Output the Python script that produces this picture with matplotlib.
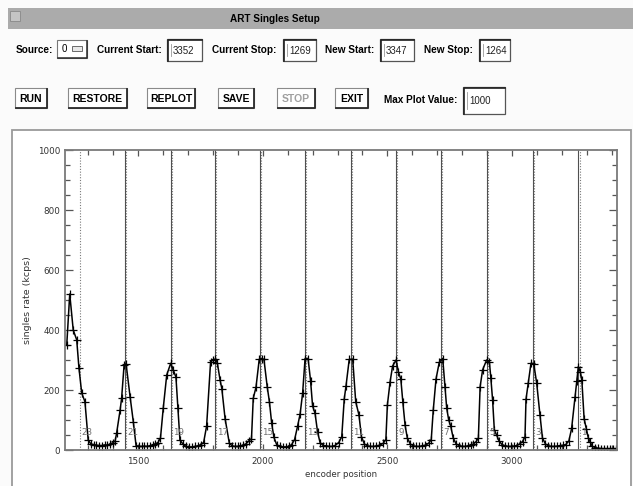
import matplotlib.pyplot as plt
from matplotlib.patches import Rectangle
from matplotlib.ticker import MultipleLocator

# singles rate scan (encoder position, kcps)
enc_pos = [1214, 1226, 1240, 1254, 1263, 1274, 1287, 1300, 1311, 1322, 1333, 1344, 1355, 1366, 1377, 1388, 1399,
           1408, 1414, 1428, 1434, 1444, 1452, 1468, 1481, 1492,
           1503, 1514, 1525, 1536, 1547, 1558, 1569, 1580, 1590,
           1601, 1615, 1631, 1641, 1652, 1660, 1668,
           1680, 1692, 1704, 1716, 1728, 1740, 1752, 1763,
           1775, 1791, 1801, 1809, 1818, 1829, 1836, 1849, 1866,
           1877, 1888, 1899, 1910, 1921, 1932, 1944, 1955,
           1962, 1973, 1986, 1996, 2005, 2018, 2027, 2036, 2045, 2056,
           2068, 2080, 2092, 2104, 2116, 2128,
           2140, 2150, 2160, 2170, 2182, 2192, 2200, 2210, 2220, 2230, 2242,
           2254, 2266, 2278, 2290, 2305,
           2317, 2327, 2334, 2347, 2361, 2373, 2386, 2396, 2408,
           2420, 2432, 2444, 2456, 2468, 2483, 2494,
           2500, 2511, 2521, 2535, 2544, 2554, 2562, 2571, 2580, 2592,
           2604, 2616, 2628, 2640, 2652, 2665, 2676,
           2684, 2695, 2708, 2722, 2731, 2738, 2746, 2754, 2764, 2776,
           2788, 2800, 2812, 2824, 2836, 2845, 2856, 2865,
           2872, 2882, 2898, 2909, 2915, 2922, 2929, 2938, 2948, 2960,
           2972, 2984, 2996, 3008, 3020, 3030, 3042, 3052,
           3056, 3065, 3076, 3087, 3099, 3112, 3122, 3134,
           3146, 3158, 3170, 3182, 3194, 3205, 3215, 3228,
           3239, 3253, 3260, 3266, 3274, 3280, 3289, 3298, 3306, 3313, 3322,
           3334, 3346, 3358, 3370, 3382, 3394, 3406, 3418]
rate = [350, 520, 400, 367, 273, 190, 161, 33, 20, 18, 16, 15, 15, 17, 16, 20, 24,
        30, 56, 133, 172, 283, 287, 178, 94, 15,
        12, 12, 13, 12, 14, 16, 20, 25, 40,
        139, 250, 289, 267, 243, 140, 33,
        20, 12, 10, 10, 12, 14, 18, 25,
        80, 295, 300, 303, 290, 233, 205, 105, 23,
        14, 12, 12, 14, 16, 20, 30, 38,
        172, 209, 302, 305, 302, 211, 160, 89, 42, 18,
        12, 10, 10, 12, 18, 35,
        80, 120, 189, 305, 305, 230, 147, 122, 60, 25, 15,
        14, 12, 12, 15, 25,
        44, 170, 213, 302, 302, 161, 117, 44, 20,
        14, 12, 12, 13, 16, 22, 35,
        150, 228, 280, 300, 261, 236, 160, 83, 40, 20,
        14, 12, 12, 14, 16, 22, 35,
        133, 236, 292, 305, 209, 139, 100, 80, 40, 20,
        15, 12, 12, 14, 16, 20, 28, 40,
        211, 267, 300, 295, 240, 167, 67, 50, 30, 18,
        14, 12, 12, 13, 15, 20, 28, 44,
        169, 224, 289, 288, 222, 117, 40, 20,
        14, 12, 12, 13, 15, 16, 18, 30,
        72, 178, 230, 278, 260, 233, 105, 70, 40, 28, 12,
        8, 6, 5, 5, 5, 5, 5, 5]

# crystal boundary markers
peak_current = [1448, 1632, 1809, 1989, 2170, 2355, 2535, 2716, 2898, 3083, 3266]
peak_new = [1269, 1453, 1637, 1814, 1994, 2175, 2360, 2540, 2721, 2903, 3088, 3271]
crystal_labels = ['23', '21', '19', '17', '15', '13', '11', '9', '7', '5', '3', '1']

xticks = [1500, 2000, 2500, 3000]
yticks = [0, 200, 400, 600, 800, 1000]

row1_labels = ['Source:', 'Current Start:', 'Current Stop:', 'New Start:', 'New Stop:']
row1_values = ['3352', '1269', '3347', '1264']
buttons = ['RUN', 'RESTORE', 'REPLOT', 'SAVE', 'STOP', 'EXIT']

plt.rcParams['font.family'] = ['Liberation Sans', 'DejaVu Sans']

W, H = 633, 486
fig = plt.figure(figsize=(W / 100, H / 100), dpi=100)
fig.patch.set_facecolor('#fbfbfb')

# GUI layer in pixel coordinates
gui = fig.add_axes([0, 0, 1, 1])
gui.set_xlim(0, W)
gui.set_ylim(H, 0)
gui.axis('off')


def button(x0, x1, y0, y1, label, color='black'):
    gui.add_patch(Rectangle((x0, y0), x1 - x0, y1 - y0, facecolor='white', edgecolor='#8a8a8a', lw=0.8))
    gui.plot([x0 + 1, x1, x1], [y1, y1, y0 + 1], color='#2a2a2a', lw=1.3)
    gui.text((x0 + x1) / 2, (y0 + y1) / 2 + 0.5, label, ha='center', va='center',
             fontsize=7.5, fontweight='bold', color=color)


def entry(x0, x1, y0, y1, value):
    gui.add_patch(Rectangle((x0, y0), x1 - x0, y1 - y0, facecolor='white', edgecolor='#555555', lw=0.9))
    gui.plot([x0 + 1, x0 + 1, x1], [y1, y0 + 1, y0 + 1], color='#222222', lw=1.2)
    gui.plot([x0 + 4, x0 + 4], [y0 + 5, y1 - 5], color='#999999', lw=0.6)
    gui.text(x0 + 6, (y0 + y1) / 2 + 0.5, value, ha='left', va='center', fontsize=7, color='#222222')


# title bar
gui.add_patch(Rectangle((8, 8), W - 8, 21, facecolor='#ababab', edgecolor='none'))
gui.add_patch(Rectangle((10, 11), 10, 10, facecolor='#c4c4c4', edgecolor='#888888', lw=0.6))
gui.text(275, 18.5, 'ART Singles Setup', ha='center', va='center', fontsize=7.2, fontweight='bold')

# first row
for lx, lab in zip([16, 97, 212, 325, 424], row1_labels):
    gui.text(lx, 50, lab, ha='left', va='center', fontsize=7.2, fontweight='bold')
gui.add_patch(Rectangle((57, 40), 30, 18, facecolor='white', edgecolor='#777777', lw=0.8))
gui.plot([58, 87, 87], [58, 58, 41], color='#2a2a2a', lw=1.1)
gui.text(62, 49.5, '0', ha='left', va='center', fontsize=7)
gui.add_patch(Rectangle((72, 46.5), 10, 5, facecolor='#e8e8e8', edgecolor='#555555', lw=0.6))
for (x0, x1), val in zip([(167, 202), (283, 316), (380, 414), (479, 510)], row1_values):
    entry(x0, x1, 39, 61, val)

# second row
for (x0, x1), lab in zip([(15, 47), (68, 127), (147, 195), (218, 254), (277, 315), (335, 368)], buttons):
    button(x0, x1, 88, 108, lab, color='#a0a0a0' if lab == 'STOP' else 'black')
gui.text(384, 100, 'Max Plot Value:', ha='left', va='center', fontsize=7.2, fontweight='bold')
entry(463, 505, 87, 114, '1000')

# plot panel frame
gui.add_patch(Rectangle((12, 130), 619, 370, facecolor='white', edgecolor='#9a9a9a', lw=1.3))

# plot
ax = fig.add_axes([65 / W, 1 - 450 / H, (617 - 65) / W, 300 / H])
ax.set_facecolor('white')
for xp in peak_new:
    ax.axvline(xp, color='#7a7a7a', lw=0.8, ls=(0, (1, 1.5)))
for xp in peak_current:
    ax.axvline(xp, color='#505050', lw=0.8)
for xp, lab in zip(peak_new, crystal_labels):
    ax.text(xp + 4, 60, lab, ha='left', va='center', fontsize=6.3, color='#707070', family='DejaVu Sans')

ax.plot(enc_pos, rate, color='black', lw=1.1, marker='+', ms=6, mew=0.9)

ax.set_xlim(1207, 3421)
ax.set_ylim(0, 1000)
ax.set_xticks(xticks)
ax.set_yticks(yticks)
ax.xaxis.set_minor_locator(MultipleLocator(100))
ax.yaxis.set_minor_locator(MultipleLocator(50))
ax.tick_params(which='both', direction='in', top=True, right=True, colors='#555555',
               labelsize=6.3, labelcolor='#333333', width=0.9)
ax.tick_params(which='major', length=6)
ax.tick_params(which='minor', length=3.5)
ax.tick_params(axis='x', which='major', length=4, pad=5)
for lab in ax.get_xticklabels() + ax.get_yticklabels():
    lab.set_family('DejaVu Sans')
for sp in ax.spines.values():
    sp.set_color('#7a7a7a')
    sp.set_linewidth(1.3)
ax.set_xlabel('encoder position', fontsize=6.2, family='DejaVu Sans', color='#333333', labelpad=3)
ax.set_ylabel('singles rate (kcps)', fontsize=6.8, family='DejaVu Sans', color='#333333', labelpad=4)

fig.savefig('out.png', dpi=100)
